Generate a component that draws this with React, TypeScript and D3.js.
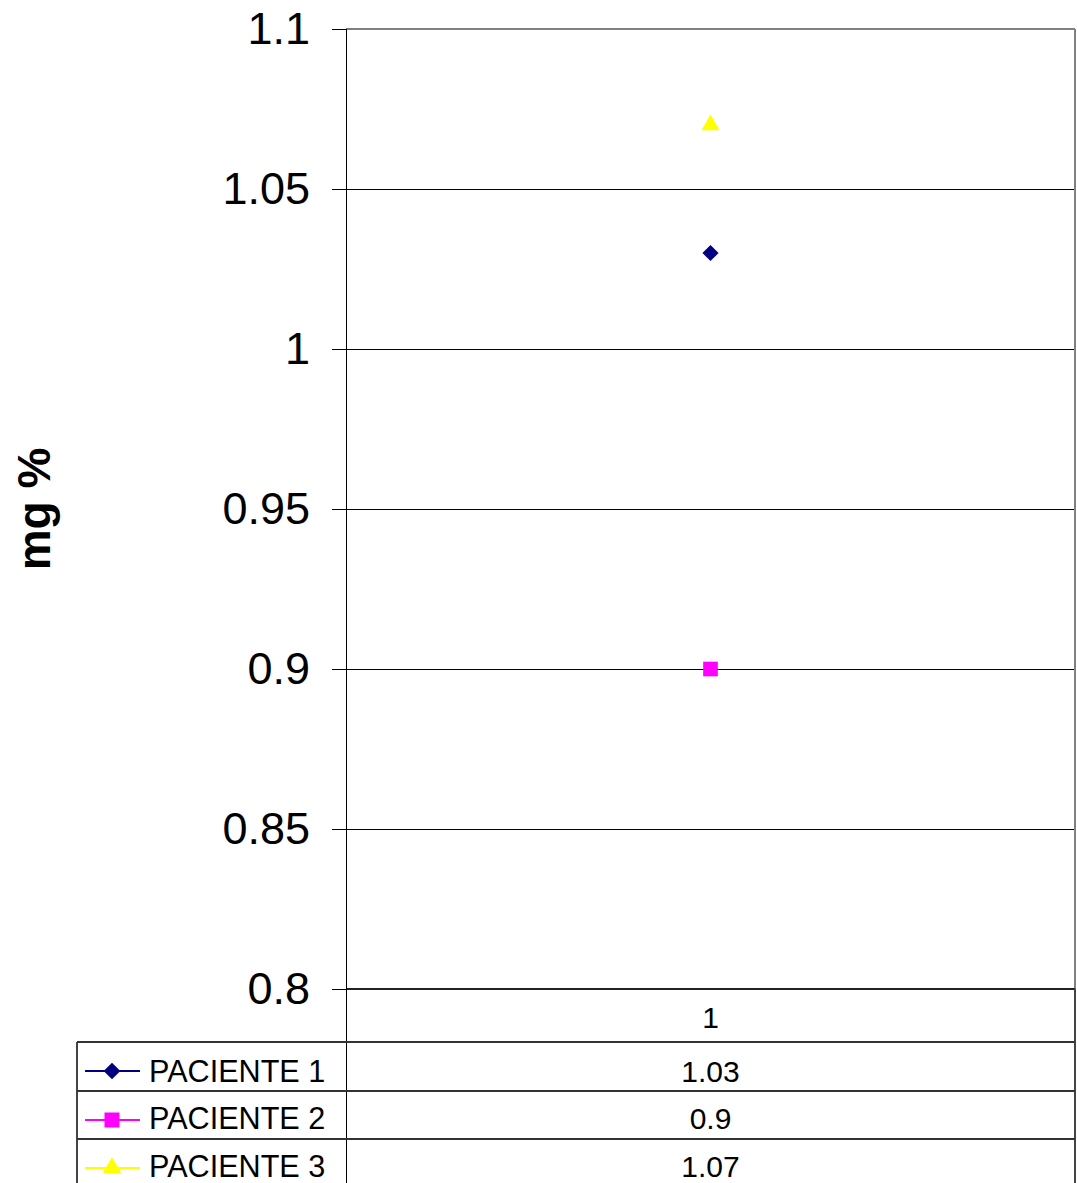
import React from "react";
import * as d3 from "d3";

const categories = ["1"];
const seriesNames = ["PACIENTE 1", "PACIENTE 2", "PACIENTE 3"];
const seriesValues = [[1.03], [0.9], [1.07]];
const seriesColors = ["#000080", "#FF00FF", "#FFFF00"];
const seriesSymbols = [d3.symbolSquare, d3.symbolSquare, d3.symbolTriangle];
const seriesRotate = [45, 0, 0];
const yTicks = [0.8, 0.85, 0.9, 0.95, 1, 1.05, 1.1];
const yTitle = "mg %";

const W = 1077;
const H = 1183;
const plotL = 346;
const plotR = 1075;
const plotT = 29;
const plotB = 989;
const tableL = 77;
const rowBounds = [989, 1042, 1091, 1139, 1190];
const font = "Arial, 'Liberation Sans', Helvetica, sans-serif";

export default function App() {
  const y = d3.scaleLinear().domain([0.8, 1.1]).range([plotB, plotT]);
  const x = d3.scaleBand().domain(categories).range([plotL, plotR]);
  const sym = (i: number, size: number) => d3.symbol().type(seriesSymbols[i]).size(size)()!;
  const symSizes = [130, 215, 140];
  const c = (v: number) => Math.round(v) + 0.5;

  return (
    <svg width={W} height={H} style={{ position: "absolute", left: 0, top: 0, background: "#fff" }}>
      <rect x={0} y={0} width={W} height={H} fill="#fff" />
      {/* gridlines */}
      {yTicks.map((t) => (
        <line key={"g" + t} x1={plotL} x2={plotR} y1={c(y(t))} y2={c(y(t))} stroke="#000" strokeWidth={1} shapeRendering="crispEdges" />
      ))}
      {/* plot border top/right */}
      <line x1={plotL} x2={plotR} y1={plotT} y2={plotT} stroke="#808080" strokeWidth={2} shapeRendering="crispEdges" />
      <line x1={plotR} x2={plotR} y1={plotT} y2={plotB} stroke="#808080" strokeWidth={2} shapeRendering="crispEdges" />
      {/* bottom axis */}
      <line x1={plotL} x2={plotR} y1={plotB} y2={plotB} stroke="#222" strokeWidth={2} shapeRendering="crispEdges" />
      {/* y axis */}
      <line x1={c(plotL)} x2={c(plotL)} y1={plotT} y2={rowBounds[4]} stroke="#000" strokeWidth={1} shapeRendering="crispEdges" />
      {yTicks.map((t) => (
        <g key={"t" + t}>
          <line x1={332} x2={plotL} y1={c(y(t))} y2={c(y(t))} stroke="#000" strokeWidth={1} shapeRendering="crispEdges" />
          <text x={310} y={y(t) + 15} textAnchor="end" fontFamily={font} fontSize={45} fill="#000">
            {String(t)}
          </text>
        </g>
      ))}
      {/* y title */}
      <text
        transform={`translate(50,${(plotT + plotB) / 2}) rotate(-90)`}
        textAnchor="middle"
        fontFamily={font}
        fontWeight="bold"
        fontSize={46}
        fill="#000"
      >
        {yTitle}
      </text>
      {/* data points */}
      {seriesValues.map((vals, i) =>
        vals.map((v, j) => (
          <path
            key={`p${i}-${j}`}
            d={sym(i, symSizes[i])}
            transform={`translate(${x(categories[j])! + x.bandwidth() / 2},${y(v)}) rotate(${seriesRotate[i]})`}
            fill={seriesColors[i]}
          />
        ))
      )}
      {/* data table */}
      <line x1={plotR} x2={plotR} y1={plotB} y2={rowBounds[4]} stroke="#444" strokeWidth={2} shapeRendering="crispEdges" />
      <line x1={tableL} x2={tableL} y1={rowBounds[1]} y2={rowBounds[4]} stroke="#444" strokeWidth={1.5} shapeRendering="crispEdges" />
      {[1, 2, 3].map((r) => (
        <line key={"r" + r} x1={tableL} x2={plotR} y1={rowBounds[r]} y2={rowBounds[r]} stroke="#333" strokeWidth={2} shapeRendering="crispEdges" />
      ))}
      {categories.map((cat) => (
        <text key={"c" + cat} x={x(cat)! + x.bandwidth() / 2} y={1028} textAnchor="middle" fontFamily={font} fontSize={30} fill="#000">
          {cat}
        </text>
      ))}
      {seriesNames.map((name, i) => {
        const base = [1082, 1129, 1177][i];
        const lineY = [1071, 1120, 1168][i];
        return (
          <g key={"s" + i}>
            <line x1={85} x2={140} y1={lineY} y2={lineY} stroke={seriesColors[i]} strokeWidth={2} />
            <path d={sym(i, symSizes[i] + 10)} transform={`translate(112,${lineY}) rotate(${seriesRotate[i]})`} fill={seriesColors[i]} />
            <text x={149} y={base} fontFamily={font} fontSize={30.6} fill="#000">
              {name}
            </text>
            {seriesValues[i].map((v, j) => (
              <text key={j} x={x(categories[j])! + x.bandwidth() / 2} y={base} textAnchor="middle" fontFamily={font} fontSize={30} fill="#000">
                {String(v)}
              </text>
            ))}
          </g>
        );
      })}
    </svg>
  );
}
